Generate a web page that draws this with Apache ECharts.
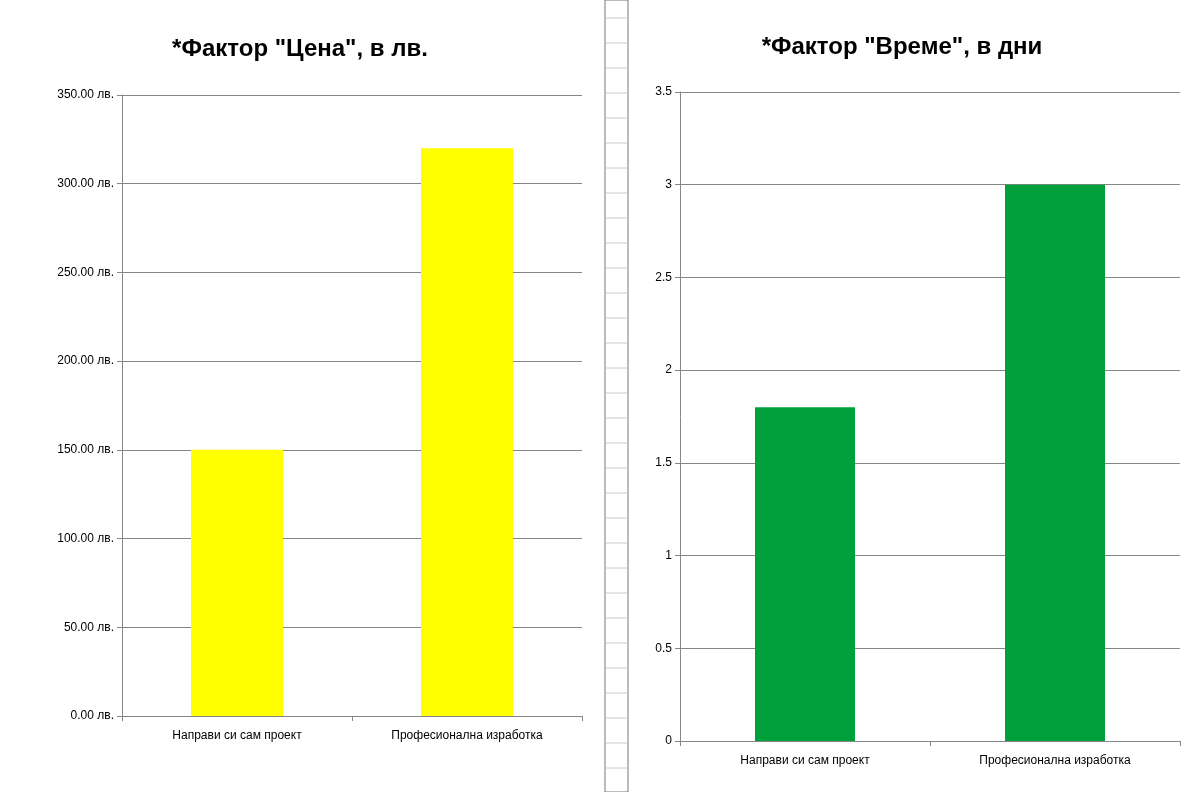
<!DOCTYPE html>
<html>
<head>
<meta charset="UTF-8">
<script src="https://cdn.jsdelivr.net/npm/echarts@6/dist/echarts.min.js"></script>
</head>
<body style="margin:0">
<div id="c" style="width:1200px;height:792px"></div>
<script>
const categories = ['Направи си сам проект', 'Професионална изработка'];
const priceValues = [150, 320];
const timeValues = [1.8, 3];

const chart = echarts.init(document.getElementById('c'));
const font = 'Arial, "Liberation Sans", sans-serif';
const axisCommon = {
  axisLine: { show: true, lineStyle: { color: '#868686' } },
  axisTick: { show: true, lineStyle: { color: '#868686' } },
  axisLabel: { color: '#000', fontSize: 12, fontFamily: font },
  splitLine: { lineStyle: { color: '#868686' } }
};

// spreadsheet strip between the charts
const strip = [
  { type: 'rect', shape: { x: 605, y: 0, width: 23, height: 792 }, style: { fill: '#fff', stroke: '#777', lineWidth: 1 } }
];
for (let y = 18; y < 792; y += 25) {
  strip.push({ type: 'line', shape: { x1: 606, y1: y, x2: 627, y2: y }, style: { stroke: '#ccc' } });
}

chart.setOption({
  animation: false,
  backgroundColor: '#fff',
  title: [
    { text: '*Фактор "Цена", в лв.', left: 295, textAlign: 'center', top: 32, textStyle: { fontSize: 24, fontWeight: 'bold', fontFamily: font, color: '#000' } },
    { text: '*Фактор "Време", в дни', left: 897, textAlign: 'center', top: 30, textStyle: { fontSize: 24, fontWeight: 'bold', fontFamily: font, color: '#000' } }
  ],
  grid: [
    { left: 122, right: 618, top: 95, bottom: 76 },
    { left: 680, right: 20, top: 92, bottom: 51 }
  ],
  xAxis: [
    Object.assign({}, axisCommon, { type: 'category', gridIndex: 0, data: categories, axisTick: { show: true, alignWithLabel: false, lineStyle: { color: '#868686' } }, axisLabel: { color: '#000', fontSize: 12, fontFamily: font, margin: 14 } }),
    Object.assign({}, axisCommon, { type: 'category', gridIndex: 1, data: categories, axisTick: { show: true, lineStyle: { color: '#868686' } }, axisLabel: { color: '#000', fontSize: 12, fontFamily: font, margin: 14 } })
  ],
  yAxis: [
    Object.assign({}, axisCommon, { type: 'value', gridIndex: 0, min: 0, max: 350, interval: 50,
      axisLabel: { color: '#000', fontSize: 12, fontFamily: font, formatter: v => v.toFixed(2) + ' лв.' } }),
    Object.assign({}, axisCommon, { type: 'value', gridIndex: 1, min: 0, max: 3.5, interval: 0.5,
      axisLabel: { color: '#000', fontSize: 12, fontFamily: font } })
  ],
  series: [
    { type: 'bar', xAxisIndex: 0, yAxisIndex: 0, data: priceValues, barWidth: '40%', itemStyle: { color: '#ffff00' } },
    { type: 'bar', xAxisIndex: 1, yAxisIndex: 1, data: timeValues, barWidth: '40%', itemStyle: { color: '#00a03c' } }
  ],
  graphic: strip
});
</script>
</body>
</html>
